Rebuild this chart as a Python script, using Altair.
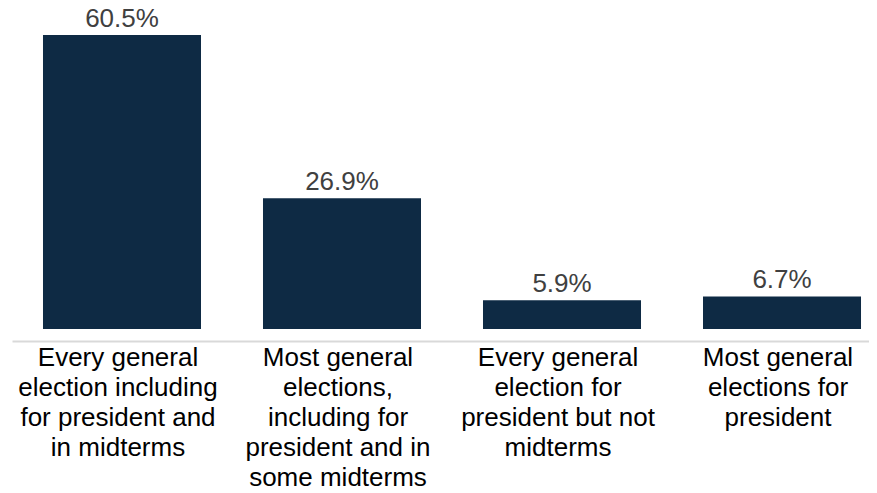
import altair as alt
import pandas as pd

category_lines = [
    ["Every general", "election including", "for president and", "in midterms"],
    ["Most general", "elections,", "including for", "president and in", "some midterms"],
    ["Every general", "election for", "president but not", "midterms"],
    ["Most general", "elections for", "president"],
]
values = [60.5, 26.9, 5.9, 6.7]
value_labels = ["60.5%", "26.9%", "5.9%", "6.7%"]

categories = ["|".join(lines) for lines in category_lines]
df = pd.DataFrame({"category": categories, "value": values, "label": value_labels})

x_enc = alt.X(
    "category:N",
    sort=None,
    title=None,
    scale=alt.Scale(paddingInner=0.2818, paddingOuter=0.0886, align=0.795),
    axis=alt.Axis(
        labelExpr="split(datum.value, '|')",
        labelAngle=0,
        labelFont="Liberation Sans",
        labelFontSize=26,
        labelColor="#000000",
        labelLineHeight=30,
        labelPadding=3,
        labelBaseline="top",
        labelLimit=400,
        labelOffset=-4,
        ticks=False,
        domainColor="#d9d9d9",
        domainWidth=2,
        offset=12,
        grid=False,
    ),
)
y_enc = alt.Y("value:Q", scale=alt.Scale(domain=[0, 65]), axis=None)

bars = alt.Chart(df).mark_bar(color="#0e2a44").encode(x=x_enc, y=y_enc)
text = alt.Chart(df).mark_text(
    dy=-8, baseline="alphabetic", font="Liberation Sans", fontSize=26, color="#404040"
).encode(x=alt.X("category:N", sort=None), y="value:Q", text="label:N")

chart = (
    alt.layer(bars, text)
    .properties(
        width=857,
        height=316,
        autosize=alt.AutoSizeParams(type="none"),
        padding={"left": 4, "top": 5, "right": 0, "bottom": 164},
    )
    .configure_view(stroke=None)
)

chart.save("out.html", embed_options={"renderer": "svg", "actions": False})
